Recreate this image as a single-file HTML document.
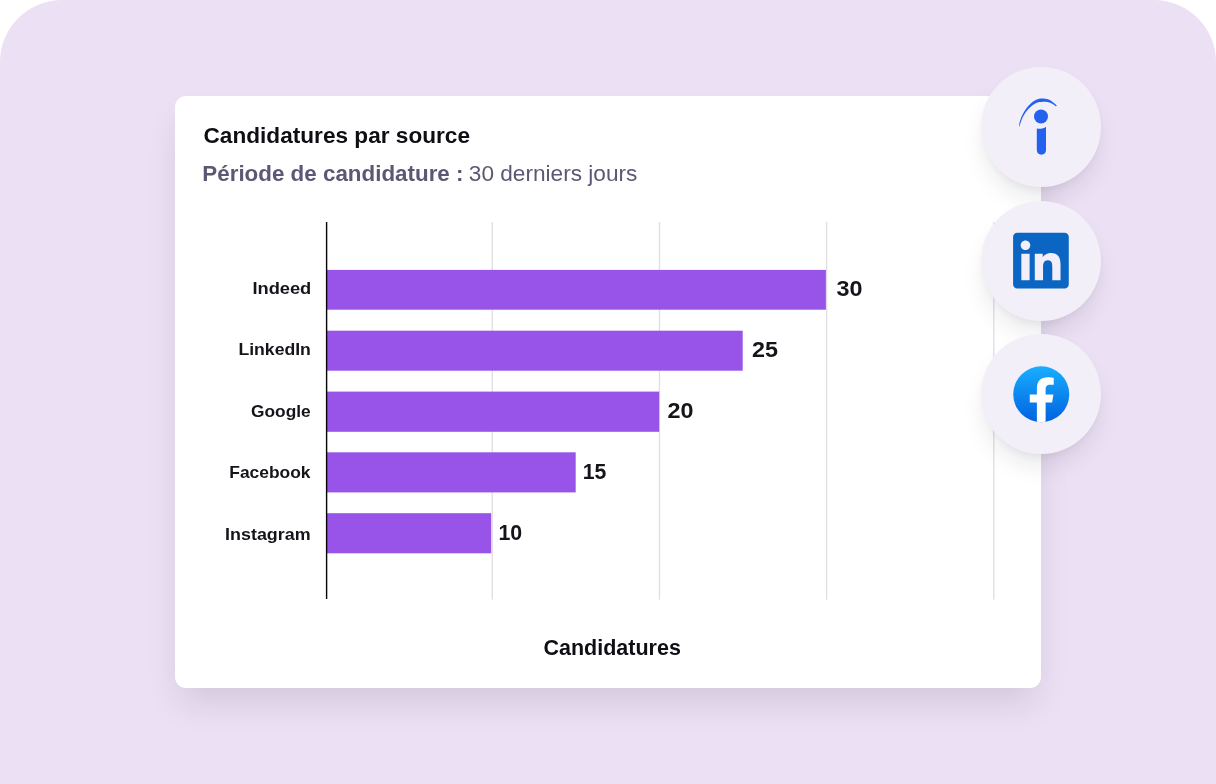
<!DOCTYPE html>
<html lang="fr">
<head>
<meta charset="utf-8">
<title>Candidatures par source</title>
<style>
  html, body { margin: 0; padding: 0; background: #ffffff; }
  body { width: 1216px; height: 784px; overflow: hidden; position: relative;
         font-family: "Liberation Sans", sans-serif; }
  .stage { position: absolute; left: 0; top: 0; width: 1216px; height: 784px;
           background: #ece0f4; border-radius: 62px 62px 0 0; }
  .card { position: absolute; left: 175px; top: 96px; width: 866px; height: 592px;
          background: #ffffff; border-radius: 11px;
          box-shadow: 0 19px 34px -6px rgba(20,26,48,0.125); }
  .badge { position: absolute; left: 981px; width: 120px; height: 120px; border-radius: 50%;
           background: #f3eff8;
           box-shadow: 0 15px 26px -6px rgba(20,26,48,0.115), 0 5px 8px -3px rgba(20,26,48,0.05); }
  .b1 { top: 66.5px; } .b2 { top: 200.5px; } .b3 { top: 334px; }
  svg.layer { position: absolute; left: 0; top: 0; width: 1216px; height: 784px; overflow: visible; }
  svg text { font-family: "Liberation Sans", sans-serif; }
  .t-bold { font-weight: 700; }
</style>
</head>
<body>
<div class="stage">
  <div class="card"></div>

  <!-- chart shapes + text -->
  <svg class="layer" viewBox="0 0 1216 784">
    <!-- gridlines -->
    <g fill="#e0dde5">
      <rect x="491.6" y="222" width="1.3" height="377.6"/>
      <rect x="658.8" y="222" width="1.3" height="377.6"/>
      <rect x="826.0" y="222" width="1.3" height="377.6"/>
      <rect x="993.2" y="222" width="1.3" height="377.6"/>
    </g>
    <!-- bars -->
    <g fill="#9854e8">
      <rect x="327" y="269.9" width="498.9" height="39.8"/>
      <rect x="327" y="330.7" width="415.7" height="40"/>
      <rect x="327" y="391.6" width="332.2" height="40.2"/>
      <rect x="327" y="452.3" width="248.7" height="40.1"/>
      <rect x="327" y="513.2" width="164.2" height="40.1"/>
    </g>
    <!-- axis -->
    <rect x="325.9" y="222" width="1.4" height="377" fill="#040406"/>

    <!-- headings -->
    <text class="t-bold" x="203.5" y="142.8" font-size="22.4" fill="#0f0e14" textLength="266.5" lengthAdjust="spacingAndGlyphs">Candidatures par source</text>
    <text x="202.3" y="181.0" font-size="22.1" fill="#5e5774"><tspan class="t-bold" textLength="261.2" lengthAdjust="spacingAndGlyphs">Période de candidature :</tspan></text>
    <text x="468.8" y="181.0" font-size="22.1" fill="#5e5774" textLength="168.6" lengthAdjust="spacingAndGlyphs">30 derniers jours</text>

    <!-- category labels -->
    <g class="t-bold" font-size="16.4" fill="#15141a">
      <text x="252.4" y="294.1" textLength="58.9" lengthAdjust="spacingAndGlyphs">Indeed</text>
      <text x="238.4" y="355.1" textLength="72.5" lengthAdjust="spacingAndGlyphs">LinkedIn</text>
      <text x="251.1" y="416.5" textLength="59.6" lengthAdjust="spacingAndGlyphs">Google</text>
      <text x="229.3" y="477.6" textLength="81.2" lengthAdjust="spacingAndGlyphs">Facebook</text>
      <text x="225.1" y="540" textLength="85.5" lengthAdjust="spacingAndGlyphs">Instagram</text>
    </g>

    <!-- values -->
    <g class="t-bold" font-size="22" fill="#15141a">
      <text x="836.5" y="295.6" textLength="26" lengthAdjust="spacingAndGlyphs">30</text>
      <text x="752" y="356.7" textLength="26" lengthAdjust="spacingAndGlyphs">25</text>
      <text x="667.5" y="417.6" textLength="26" lengthAdjust="spacingAndGlyphs">20</text>
      <text x="582.8" y="479" textLength="23.6" lengthAdjust="spacingAndGlyphs">15</text>
      <text x="498.4" y="540" textLength="23.8" lengthAdjust="spacingAndGlyphs">10</text>
    </g>

    <!-- axis title -->
    <text class="t-bold" x="543.5" y="654.5" font-size="21.3" fill="#0f0e14" textLength="137.4" lengthAdjust="spacingAndGlyphs">Candidatures</text>
  </svg>

  <div class="badge b1"></div>
  <div class="badge b2"></div>
  <div class="badge b3"></div>

  <!-- icons -->
  <svg class="layer" viewBox="0 0 1216 784">
    <defs>
      <linearGradient id="fbg" x1="0" y1="0" x2="0" y2="1">
        <stop offset="0" stop-color="#19aeff"/>
        <stop offset="1" stop-color="#0062e0"/>
      </linearGradient>
      <clipPath id="fbclip"><circle cx="1041.25" cy="394.25" r="28"/></clipPath>
    </defs>

    <!-- Indeed -->
    <g fill="#2362ee">
      <circle cx="1041" cy="116.5" r="7"/>
      <path d="M1036.8 128.5 C1040 129.4 1043.4 128.6 1046 126.7 L1046 150.1 C1046 152.9 1044 154.8 1041.4 154.8 C1038.8 154.8 1036.8 152.9 1036.8 150.1 Z"/>
      <path d="M1019.09 126.58 C1019.17 125.92 1019.21 124.16 1019.58 122.61 C1019.94 121.05 1020.59 118.97 1021.27 117.27 C1021.96 115.58 1022.81 113.96 1023.70 112.42 C1024.59 110.89 1025.47 109.52 1026.61 108.06 C1027.74 106.61 1029.19 104.91 1030.48 103.70 C1031.78 102.48 1033.07 101.56 1034.36 100.79 C1035.66 100.02 1036.79 99.45 1038.24 99.09 C1039.70 98.73 1041.47 98.57 1043.09 98.61 C1044.71 98.65 1046.40 98.82 1047.94 99.33 C1049.47 99.84 1051.09 100.87 1052.30 101.66 C1053.52 102.45 1054.47 103.44 1055.21 104.08 C1055.96 104.73 1056.51 105.30 1056.76 105.54 C1056.63 105.65 1056.37 106.28 1055.99 106.22 C1055.61 106.15 1055.26 105.63 1054.48 105.15 C1053.71 104.67 1052.51 103.88 1051.33 103.36 C1050.16 102.83 1048.83 102.28 1047.45 102.00 C1046.08 101.72 1044.46 101.64 1043.09 101.66 C1041.72 101.68 1040.42 101.84 1039.21 102.10 C1038.00 102.36 1036.99 102.66 1035.82 103.21 C1034.65 103.76 1033.46 104.41 1032.18 105.39 C1030.91 106.38 1029.35 107.81 1028.16 109.13 C1026.97 110.44 1026.00 111.84 1025.05 113.30 C1024.11 114.75 1023.24 116.22 1022.48 117.85 C1021.73 119.49 1021.05 121.60 1020.55 123.09 C1020.04 124.58 1019.62 126.16 1019.43 126.78 Z"/>
    </g>

    <!-- LinkedIn -->
    <g transform="translate(1013.1 232.75) scale(2.32)">
      <path fill="#0a66c2" d="M20.447 20.452h-3.554v-5.569c0-1.328-.027-3.037-1.852-3.037-1.853 0-2.136 1.445-2.136 2.939v5.667H9.351V9h3.414v1.561h.046c.477-.9 1.637-1.85 3.37-1.85 3.601 0 4.267 2.37 4.267 5.455v6.286zM5.337 7.433c-1.144 0-2.063-.926-2.063-2.065 0-1.138.92-2.063 2.063-2.063 1.14 0 2.064.925 2.064 2.063 0 1.139-.925 2.065-2.064 2.065zm1.782 13.019H3.555V9h3.564v11.452zM22.225 0H1.771C.792 0 0 .774 0 1.729v20.542C0 23.227.792 24 1.771 24h20.451C23.2 24 24 23.227 24 22.271V1.729C24 .774 23.2 0 22.222 0h.003z"/>
    </g>

    <!-- Facebook -->
    <circle cx="1041.25" cy="394.25" r="28" fill="url(#fbg)"/>
    <g clip-path="url(#fbclip)">
      <g transform="translate(1013.25 366.25) scale(2.3333)">
        <path fill="#ffffff" d="M16.671 15.543l.532-3.47h-3.328v-2.25c0-.949.465-1.874 1.956-1.874h1.513V4.996s-1.374-.235-2.686-.235c-2.741 0-4.533 1.662-4.533 4.669v2.643H7.078v3.47h3.047v8.385a12.09 12.09 0 003.75 0v-8.385h2.796z"/>
      </g>
    </g>
  </svg>
</div>
</body>
</html>
